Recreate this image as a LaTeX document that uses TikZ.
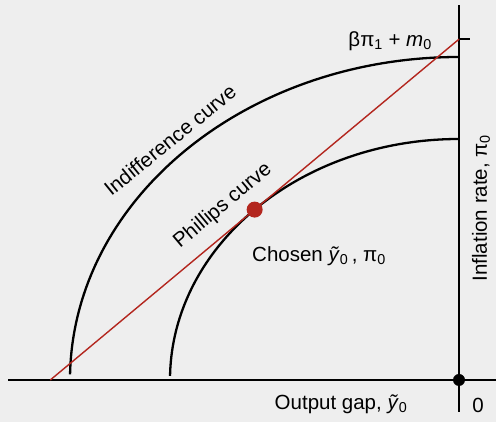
\documentclass[tikz,border=0pt]{standalone}
\usepackage{fontspec}
\setmainfont{Liberation Sans}
\usetikzlibrary{calc}
\definecolor{panel}{HTML}{EEEEEE}
\definecolor{tangent}{HTML}{B3261E}

\begin{document}
\begin{tikzpicture}[x=1pt,y=1pt,
  axis/.style={black,line width=2pt},
  curve/.style={black,line width=2.3pt},
  tline/.style={tangent,line width=1.4pt},
  lbl/.style={font=\fontsize{20.5}{24}\selectfont,inner sep=0pt}]
  % panel
  \fill[panel] (0,0) rectangle (496,422);
  \useasboundingbox (0,0) rectangle (496,422);
  % origin, tangent point and intercepts of the tangent line
  \coordinate (O) at (459,42);
  \coordinate (P) at (254.65,212.41);
  \coordinate (A) at (50.29,42);
  \coordinate (B) at (459,382.82);
  \coordinate (xl) at (8,42);
  \coordinate (xr) at (496,42);
  \coordinate (yb) at (459,10);
  \coordinate (yt) at (459,417);
  % axes
  \draw[axis] (xl) -- (xr);
  \draw[axis] (yb) -- (yt);
  \draw[axis] (B) -- ++(11,0);
  % indifference curve and phillips curve
  \draw[curve] ($(O)+(179:389 and 323)$) arc[start angle=179,end angle=90,x radius=389,y radius=323];
  \draw[curve] ($(O)+(179:289 and 241)$) arc[start angle=179,end angle=90,x radius=289,y radius=241];
  % tangent line
  \draw[tline] (A) -- (B);
  \fill[tangent] (P) circle (8);
  \fill[black] (O) circle (6);
  % labels
  \node[lbl,anchor=east] (beta) at (432,381) {βπ\textsubscript{1} + \textit{m}\textsubscript{0}};
  \node[lbl,rotate=39] (indiff) at (170,282) {Indifference curve};
  \node[lbl,rotate=40] (phil) at (223,216) {Phillips curve};
  \node[lbl] (chosen) at (319,166) {Chosen \textit{ỹ}\textsubscript{0}\,, π\textsubscript{0}};
  \node[lbl,rotate=90] (infl) at (481,214) {Inflation rate, π\textsubscript{0}};
  \node[lbl] (gap) at (341,18) {Output gap,\ \textit{ỹ}\textsubscript{0}};
  \node[lbl] (zero) at (478,17) {0};
\end{tikzpicture}
\end{document}
